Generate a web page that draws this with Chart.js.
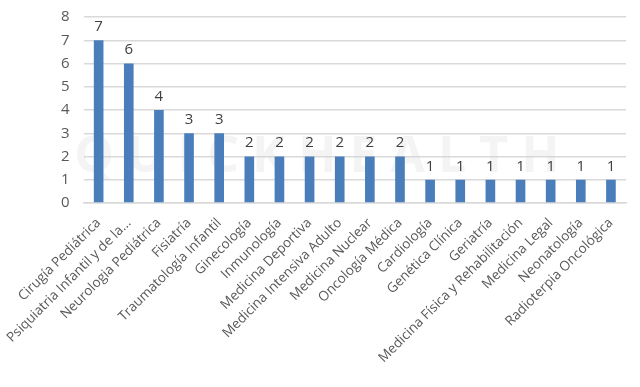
<!DOCTYPE html>
<html>
<head>
<meta charset="utf-8">
<script src="https://cdn.jsdelivr.net/npm/chart.js@4/dist/chart.umd.min.js"></script>
<style>
  body{margin:0;background:#fff}
  #wrap{width:640px;height:387px}
</style>
</head>
<body>
<div id="wrap"><canvas id="myChart" width="640" height="387"></canvas></div>
<script>
var especialidades=["Cirugía Pediátrica","Psiquiatria Infantil y de la...","Neurologia Pediátrica","Fisiatría","Traumatología Infantil","Ginecología","Inmunología","Medicina Deportiva","Medicina Intensiva Adulto","Medicina Nuclear","Oncología Médica","Cardiología","Genética Clínica","Geriatría","Medicina Física y Rehabilitación","Medicina Legal","Neonatología","Radioterpia Oncológica"]
var cantidad=[7,6,4,3,3,2,2,2,2,2,2,1,1,1,1,1,1,1]
var yTicks=[0,1,2,3,4,5,6,7,8]

// numbers on top of the bars
var etiquetas={
    id:'etiquetas',
    afterDatasetsDraw:function(chart){
        var ctx=chart.ctx
        var meta=chart.getDatasetMeta(0)
        ctx.save()
        ctx.font='15px "Open Sans"'
        ctx.fillStyle='#404040'
        ctx.textAlign='center'
        ctx.textBaseline='bottom'
        meta.data.forEach(function(bar,i){
            ctx.fillText(cantidad[i],bar.x,bar.y-6)
        })
        ctx.restore()
    }
}

// faint watermark behind the bars
var marca={
    id:'marca',
    beforeDatasetsDraw:function(chart){
        var ctx=chart.ctx
        ctx.save()
        ctx.font='bold 50px "Open Sans"'
        ctx.fillStyle='rgba(210,210,210,0.25)'
        ctx.textAlign='center'
        ctx.textBaseline='middle'
        ctx.fillText('Q U I C K H E A L T H',chart.chartArea.left+(chart.chartArea.right-chart.chartArea.left)*0.43,158)
        ctx.restore()
    }
}

var ctx=document.getElementById('myChart').getContext('2d')
var chart=new Chart(ctx,{
    type:'bar',
    data:{
        labels:especialidades,
        datasets:[{
            data:cantidad,
            backgroundColor:'#4a7ebb',
            borderColor:'#4a7ebb',
            barPercentage:0.32,
            categoryPercentage:1
        }]
    },
    options:{
        responsive:false,
        animation:false,
        layout:{padding:{left:47,right:14,top:17,bottom:17}},
        plugins:{legend:{display:false},tooltip:{enabled:false}},
        scales:{
            y:{
                min:0,max:8,
                afterBuildTicks:function(axis){axis.ticks=yTicks.map(function(v){return {value:v}})},
                afterFit:function(axis){axis.paddingTop=0},
                grid:{color:'#d9d9d9',lineWidth:1.5,drawTicks:false},
                border:{display:false},
                ticks:{color:'#595959',font:{family:'Open Sans',size:15},padding:14}
            },
            x:{
                grid:{display:false},
                border:{color:'#d9d9d9',width:1.5},
                ticks:{color:'#595959',font:{family:'Open Sans',size:13.5},maxRotation:45,minRotation:45,autoSkip:false,padding:4}
            }
        }
    },
    plugins:[marca,etiquetas]
})
</script>
</body>
</html>
